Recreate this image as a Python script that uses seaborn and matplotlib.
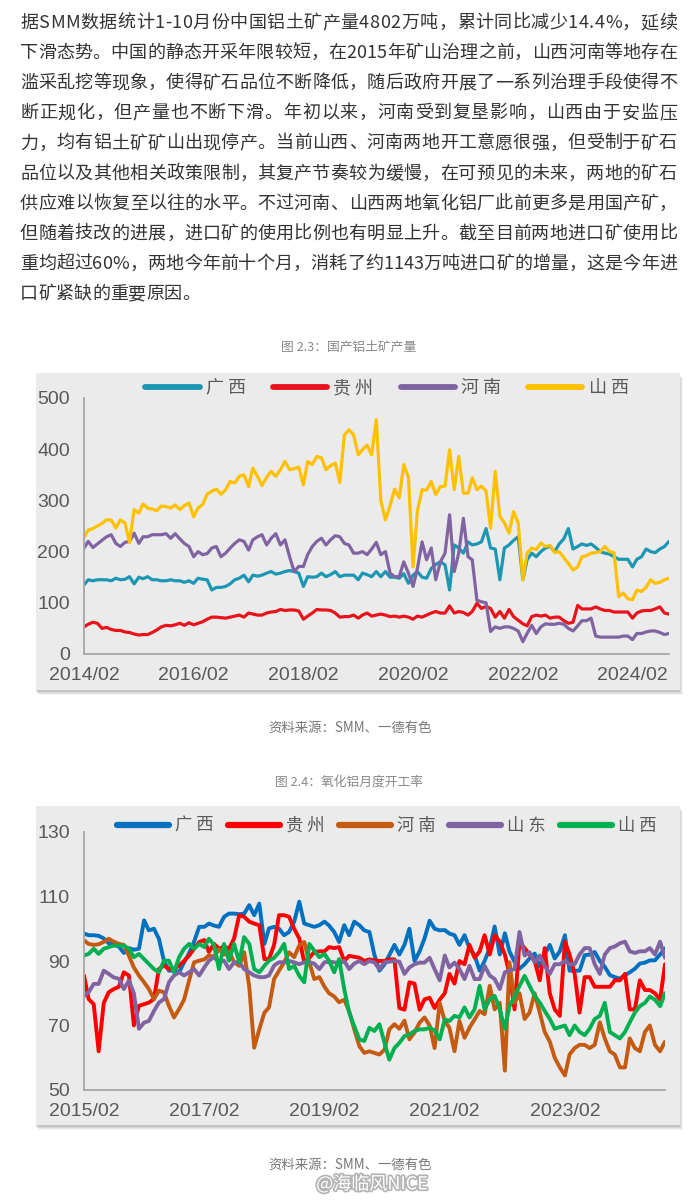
import matplotlib
matplotlib.use("Agg")
import numpy as np
import pandas as pd
import matplotlib.pyplot as plt
import matplotlib.patheffects as pe
from matplotlib.font_manager import FontProperties
from matplotlib.patches import Rectangle
import seaborn as sns

# ------------------------------------------------------------------
# Text content
# ------------------------------------------------------------------
PARAGRAPH = [
    "据SMM数据统计1-10月份中国铝土矿产量4802万吨，累计同比减少14.4%，延续",
    "下滑态势。中国的静态开采年限较短，在2015年矿山治理之前，山西河南等地存在",
    "滥采乱挖等现象，使得矿石品位不断降低，随后政府开展了一系列治理手段使得不",
    "断正规化，但产量也不断下滑。年初以来，河南受到复垦影响，山西由于安监压",
    "力，均有铝土矿矿山出现停产。当前山西、河南两地开工意愿很强，但受制于矿石",
    "品位以及其他相关政策限制，其复产节奏较为缓慢，在可预见的未来，两地的矿石",
    "供应难以恢复至以往的水平。不过河南、山西两地氧化铝厂此前更多是用国产矿，",
    "但随着技改的进展，进口矿的使用比例也有明显上升。截至目前两地进口矿使用比",
    "重均超过60%，两地今年前十个月，消耗了约1143万吨进口矿的增量，这是今年进",
    "口矿紧缺的重要原因。",
]
CAPTION_1 = "图 2.3：国产铝土矿产量"
CAPTION_2 = "图 2.4：氧化铝月度开工率"
SOURCE = "资料来源：SMM、一德有色"
WATERMARK = "@海临风NICE"

# ------------------------------------------------------------------
# Chart 1: bauxite output (monthly, from 2014/02)
# ------------------------------------------------------------------
BAUXITE_START = "2014-02-01"
bauxite_regions = ["广西", "贵州", "河南", "山西"]
bauxite_guangxi = [
    135, 145, 143, 145, 145, 145, 143, 148, 145, 146, 151, 137,
    150, 147, 151, 145, 145, 143, 143, 145, 143, 143, 140, 143,
    138, 148, 146, 145, 125, 130, 130, 132, 137, 145, 148, 154,
    141, 154, 152, 154, 158, 161, 156, 158, 161, 163, 161, 158,
    132, 151, 150, 151, 158, 151, 155, 161, 151, 154, 154, 154,
    145, 158, 155, 151, 161, 151, 161, 150, 150, 148, 157, 138,
    154, 161, 150, 148, 167, 175, 180, 174, 125, 213, 207, 197,
    219, 213, 215, 219, 245, 207, 205, 145, 207, 213, 222, 229,
    145, 184, 197, 190, 200, 207, 210, 200, 215, 225, 245, 205,
    210, 215, 212, 215, 208, 200, 197, 195, 190, 185, 185, 185,
    170, 185, 190, 205, 200, 198, 205, 210, 220,
]
bauxite_guizhou = [
    53, 58, 62, 60, 50, 52, 48, 46, 46, 43, 42, 39,
    37, 38, 38, 42, 47, 53, 56, 55, 57, 60, 56, 61,
    57, 60, 63, 68, 72, 72, 71, 70, 72, 74, 76, 72,
    80, 78, 76, 76, 80, 82, 83, 87, 85, 86, 86, 84,
    68, 74, 80, 87, 86, 86, 85, 80, 72, 73, 73, 76,
    70, 76, 80, 74, 76, 78, 76, 73, 74, 72, 74, 72,
    68, 74, 72, 76, 80, 83, 80, 80, 94, 80, 83, 81,
    76, 83, 99, 89, 93, 89, 72, 83, 70, 87, 73, 66,
    59, 55, 73, 76, 74, 76, 70, 72, 72, 65, 60, 62,
    95, 88, 88, 88, 92, 88, 85, 85, 82, 82, 82, 82,
    70, 80, 84, 85, 85, 88, 92, 80, 78,
]
bauxite_henan = [
    207, 220, 208, 215, 222, 229, 233, 216, 210, 218, 220, 236,
    216, 229, 229, 233, 233, 233, 235, 226, 235, 225, 216, 210,
    190, 200, 194, 196, 207, 210, 190, 197, 207, 216, 223, 220,
    203, 223, 229, 233, 213, 226, 235, 213, 223, 190, 161, 171,
    171, 194, 210, 220, 226, 213, 223, 231, 229, 216, 213, 197,
    197, 200, 194, 205, 218, 194, 200, 158, 151, 151, 180, 158,
    132, 167, 219, 184, 207, 145, 180, 197, 272, 161, 197, 265,
    190, 184, 105, 102, 100, 44, 53, 50, 53, 53, 50, 45,
    24, 40, 56, 40, 53, 59, 58, 58, 60, 58, 50, 45,
    55, 65, 65, 70, 35, 33, 33, 33, 33, 33, 35, 35,
    28, 40, 40, 43, 45, 45, 42, 38, 40,
]
bauxite_shanxi = [
    228, 242, 245, 250, 255, 262, 262, 246, 262, 256, 218, 282,
    275, 293, 285, 283, 280, 289, 288, 285, 291, 282, 290, 295,
    268, 285, 292, 312, 318, 322, 312, 321, 337, 334, 347, 350,
    327, 363, 347, 329, 345, 357, 347, 360, 376, 360, 362, 365,
    330, 376, 370, 386, 383, 360, 368, 373, 335, 428, 438, 428,
    389, 399, 408, 389, 458, 300, 262, 290, 322, 305, 370, 345,
    170, 280, 321, 320, 337, 311, 327, 328, 399, 321, 386, 314,
    314, 344, 321, 328, 318, 246, 357, 269, 256, 236, 278, 256,
    145, 197, 207, 204, 217, 210, 212, 198, 200, 188, 177, 164,
    170, 190, 192, 197, 198, 200, 210, 200, 198, 112, 119, 108,
    106, 125, 122, 130, 145, 138, 140, 145, 148,
]
bauxite_colors = ["#1b97b3", "#e8131b", "#8064a2", "#ffc000"]
bauxite_xticks = ["2014/02", "2016/02", "2018/02", "2020/02", "2022/02", "2024/02"]
bauxite_yticks = [0, 100, 200, 300, 400, 500]

# ------------------------------------------------------------------
# Chart 2: alumina operating rate (monthly, from 2015/02)
# ------------------------------------------------------------------
ALUMINA_START = "2015-02-01"
alumina_regions = ["广西", "贵州", "河南", "山东", "山西"]
alumina_guangxi = [
    98.5, 98, 98, 97.8, 97, 95.5, 95, 94.5, 92.5, 94, 93.5, 93.8,
    102.6, 99.5, 100, 96.9, 90, 87, 87, 86.5, 89.6, 92.5, 96, 100.6,
    100.6, 101.6, 101, 100.6, 103.7, 104.7, 104.7, 104.5, 104.7, 107.3, 104.2, 107.8,
    95.3, 100.1, 100.6, 100, 98, 99, 102.2, 108.4, 101.6, 101.1, 100.6, 101.1,
    102.2, 101, 99, 95.9, 101.1, 98, 102.2, 101.1, 99.5, 99, 92, 87,
    89, 91.8, 95, 92, 95, 100, 90, 93, 97, 102.5, 100, 99.5,
    99.6, 98.5, 98, 95, 98, 94, 91.8, 87, 90, 94, 100.7, 92,
    98.6, 93, 89.7, 87.6, 89, 90.8, 92.3, 88.2, 92, 95, 90.8, 93,
    98, 87, 87, 87, 91.8, 92, 92.8, 90, 88.2, 85.6, 85, 84.5,
    85.6, 86.5, 87.6, 89.2, 89.5, 90.2, 90.2, 92, 93.9,
]
alumina_guizhou = [
    85.5, 78.2, 76.6, 62, 77, 80.3, 81.3, 82, 86.5, 85.5, 70, 76.1,
    76.6, 77.1, 78.2, 87.5, 88.6, 87.5, 87.5, 88.6, 90, 91.7, 93.8, 95.9,
    96.5, 92.8, 95.3, 93.8, 94.5, 93.8, 97, 104.2, 103.7, 102.2, 101.6, 101.1,
    90.6, 90.6, 95, 104.2, 104.2, 103.7, 100, 97, 89.6, 91, 92.8, 93,
    93, 94.3, 94, 94.3, 90, 91.6, 91.3, 91, 90, 90.5, 90.2, 90,
    90, 90.5, 90.5, 75.4, 74.9, 83.4, 83, 74.9, 78.1, 78.6, 75.4, 78,
    80, 86, 83, 90, 89, 95, 91, 93, 98, 92, 98, 96,
    92, 86, 75, 96, 94, 92, 90, 84, 94, 80, 75, 73,
    96, 92, 86, 74, 85, 85, 82, 82, 82, 82, 84, 84,
    86, 75, 75, 84, 81, 81, 80, 78, 89,
]
alumina_henan = [
    96.4, 95.3, 95, 95.2, 95.9, 96.9, 96, 95.3, 95, 91.6, 88, 85.5,
    83.4, 81.3, 78.2, 80.8, 80.3, 76.1, 72.5, 75.1, 78, 84, 89.6, 90.1,
    90.5, 91.7, 91.3, 93.7, 92, 93, 89.6, 88.5, 92.7, 82, 63.1, 68.8,
    74, 75.6, 84.4, 87, 89.6, 92.7, 91.2, 94.8, 95.9, 89.6, 84.4, 85,
    82, 80, 79, 77.2, 78, 74.5, 68.8, 63.6, 61.5, 62, 61.5, 61,
    62.5, 68.8, 70.4, 69, 71.5, 65.7, 67.8, 70.9, 72.5, 70, 63, 77,
    71.4, 69.3, 62, 71.4, 66.2, 69.3, 71.9, 74.5, 73.5, 82.3, 75, 77,
    56, 89.6, 77, 80, 72, 74, 80, 74, 68, 65, 60, 57,
    54.5, 61, 63, 64, 64, 63, 64, 71, 66, 62, 61, 57,
    57, 66, 63, 62, 68, 70, 64, 62, 65,
]
alumina_shandong = [
    79.2, 80.3, 82.9, 82.9, 87, 86, 84.9, 84.5, 81.3, 83.9, 80, 69,
    70.9, 71.4, 74.5, 77.1, 78.2, 83.4, 85.5, 86.5, 85.5, 86.5, 87.5, 85.5,
    88, 90.1, 91.2, 89.6, 90.1, 87.5, 89.6, 89.6, 87.5, 86.5, 85.5, 85,
    85, 85.5, 88.6, 89.6, 89.6, 90, 89.6, 89, 89.6, 89.6, 89.2, 87.5,
    89.6, 89.8, 89.6, 89.2, 90, 87.5, 89.2, 90, 89, 90, 89.6, 87.5,
    89.6, 89.8, 90, 89.8, 86, 88, 89, 89.5, 89.5, 91, 87.5, 84,
    91.7, 88, 89.5, 87.5, 84.4, 88.5, 84.4, 84.4, 88.5, 85.5, 84.4, 81.3,
    86.5, 87, 87.5, 99, 91.7, 92.7, 89.6, 91.7, 88.5, 86, 89, 89,
    90, 89, 89, 92, 94, 94, 89, 86, 92, 94, 94.5, 95.5,
    96, 93, 92.5, 93, 93, 94, 92, 96, 91,
]
alumina_shanxi = [
    91.7, 92.2, 93.8, 92.2, 93.8, 94.3, 94.8, 94.8, 94.8, 93.8, 91.2, 92.2,
    90.6, 89.1, 87.5, 86.5, 90.1, 90.1, 86.5, 91.2, 93.8, 95.3, 93.8, 95.3,
    94.3, 96.9, 95, 87.5, 95.3, 90.1, 95.3, 89.6, 97.4, 95.3, 87.5, 86.5,
    88.5, 90.1, 91, 92.7, 95.3, 87.5, 88.5, 85.4, 83.4, 95.3, 93.2, 91.2,
    92.2, 90.1, 86.5, 90.6, 81.3, 74, 69.8, 65.7, 65.2, 69.3, 68.3, 70.4,
    64.6, 59.4, 63, 64.6, 66.7, 67.2, 68.3, 68.8, 68.8, 69.3, 68.5, 65.7,
    71.9, 71.4, 73, 72.5, 75.6, 72.5, 75, 82.3, 75, 78.1, 79.2, 75,
    69, 76, 79, 82.3, 85.4, 82.3, 79.2, 77.1, 74.5, 72, 69, 69.5,
    70, 67, 70, 68, 67, 69, 72, 73, 77, 68, 67, 66,
    68, 71, 74, 76, 77, 79, 78, 76, 80,
]
alumina_colors = ["#0070c0", "#ff0000", "#c55a11", "#8064a2", "#00b050"]
alumina_xticks = ["2015/02", "2017/02", "2019/02", "2021/02", "2023/02"]
alumina_yticks = [50, 70, 90, 110, 130]

# ------------------------------------------------------------------
# Layout (pixel based, figure is 696 x 1200 px)
# ------------------------------------------------------------------
W, H = 696, 1200
CJK = ["Noto Sans CJK SC", "DejaVu Sans"]
TICK_FONT = ["Liberation Sans", "DejaVu Sans"]
FRAME_BG = "#ebebeb"
AXIS_GRAY = "#a6a6a6"
TICK_TEXT = "#595959"


def fx(px):
    return px / W


def fy(py):
    return 1 - py / H


def long_frame(start, regions, series):
    months = pd.date_range(start, periods=len(series[0]), freq="MS")
    parts = [
        pd.DataFrame({"month": months, "value": vals, "region": name})
        for name, vals in zip(regions, series)
    ]
    return pd.concat(parts, ignore_index=True)


def draw_frame(fig, x0, y0, x1, y1):
    # soft drop shadow then the grey panel, both behind the axes
    for off, alpha in [(5, 0.10), (4, 0.15), (3, 0.22), (2, 0.30)]:
        fig.patches.append(Rectangle(
            (fx(x0 + off - 2), fy(y1 + off)), (x1 - x0) / W, (y1 - y0) / H,
            transform=fig.transFigure, facecolor="#9a9a9a", edgecolor="none",
            alpha=alpha, zorder=-3))
    fig.patches.append(Rectangle(
        (fx(x0), fy(y1)), (x1 - x0) / W, (y1 - y0) / H,
        transform=fig.transFigure, facecolor=FRAME_BG, edgecolor="none", zorder=-2))


def draw_chart(fig, df, regions, colors, lw, ax_px, ylim, yticks, xticks,
               legend_xy, legend_kw):
    left, top, right, bottom = ax_px
    ax = fig.add_axes([fx(left), fy(bottom), (right - left) / W, (bottom - top) / H])
    ax.set_facecolor("none")
    ax.set_zorder(2)
    sns.lineplot(data=df, x="month", y="value", hue="region", hue_order=regions,
                 palette=dict(zip(regions, colors)), linewidth=lw, ax=ax)
    months = df["month"].unique()
    ax.set_xlim(months[0], months[-1])
    ax.set_ylim(*ylim)
    ax.set_yticks(yticks)
    ax.set_yticklabels([str(v) for v in yticks])
    ax.set_xticks(pd.to_datetime(xticks, format="%Y/%m"))
    ax.set_xticklabels(xticks)
    ax.set_xlabel("")
    ax.set_ylabel("")
    for s in ["top", "right"]:
        ax.spines[s].set_visible(False)
    for s in ["left", "bottom"]:
        ax.spines[s].set_color(AXIS_GRAY)
        ax.spines[s].set_linewidth(1.3)
    ax.tick_params(axis="both", direction="out", length=4, width=1.2,
                   color=AXIS_GRAY, labelcolor=TICK_TEXT, labelsize=14)
    ax.tick_params(axis="x", pad=5)
    ax.tick_params(axis="y", pad=6)
    for lab in ax.get_xticklabels() + ax.get_yticklabels():
        lab.set_family(TICK_FONT)

    handles, labels = ax.get_legend_handles_labels()
    ax.get_legend().remove()
    leg = fig.legend(handles, [" ".join(l) for l in labels], loc="center",
                     bbox_to_anchor=(fx(legend_xy[0]), fy(legend_xy[1])),
                     ncol=len(regions), frameon=False,
                     prop=FontProperties(family=CJK, size=legend_kw["size"]),
                     handlelength=legend_kw["handlelength"],
                     handletextpad=0.35,
                     columnspacing=legend_kw["columnspacing"])
    leg.set_zorder(3)
    for line in leg.get_lines():
        line.set_linewidth(legend_kw["lw"])
        line.set_solid_capstyle("round")
    for t in leg.get_texts():
        t.set_color(TICK_TEXT)
    return ax


def draw_paragraph(fig, lines, x0, x1, y_first, step, size):
    # justified lines, like the article body text
    renderer = fig.canvas.get_renderer()
    fp = FontProperties(family=CJK, size=size)
    for i, line in enumerate(lines):
        y = y_first + i * step
        widths = []
        for ch in line:
            w, _, _ = renderer.get_text_width_height_descent(ch, fp, ismath=False)
            widths.append(w)
        total = sum(widths)
        last = i == len(lines) - 1
        gap = 0.0 if last else (x1 - x0 - total) / (len(line) - 1)
        x = x0
        for ch, w in zip(line, widths):
            fig.text(fx(x), fy(y), ch, fontproperties=fp, color="#333333",
                     ha="left", va="center")
            x += w + gap


sns.set_theme(style="white")
plt.rcParams["font.family"] = CJK
plt.rcParams["axes.unicode_minus"] = False

fig = plt.figure(figsize=(W / 100, H / 100), dpi=100)
fig.patch.set_facecolor("white")

# ---------------- paragraph ----------------
draw_paragraph(fig, PARAGRAPH, 20, 677, 23, 30.1, 13)

# ---------------- chart 1 ----------------
fig.text(fx(349), fy(347), CAPTION_1, ha="center", va="center",
         fontsize=9.2, color="#888888", family=CJK)
draw_frame(fig, 36, 373, 680, 690)
df1 = long_frame(BAUXITE_START, bauxite_regions,
                 [bauxite_guangxi, bauxite_guizhou, bauxite_henan, bauxite_shanxi])
draw_chart(fig, df1, bauxite_regions, bauxite_colors, 2.3,
           (84, 398, 669, 654), (0, 500), bauxite_yticks, bauxite_xticks,
           (387, 388), dict(size=13, handlelength=3.0, columnspacing=1.5, lw=4.2))
fig.text(fx(350), fy(728), SOURCE, ha="center", va="center",
         fontsize=9.6, color="#777777", family=CJK)

# ---------------- chart 2 ----------------
fig.text(fx(349), fy(782), CAPTION_2, ha="center", va="center",
         fontsize=9.2, color="#888888", family=CJK)
draw_frame(fig, 36, 806, 680, 1125)
df2 = long_frame(ALUMINA_START, alumina_regions,
                 [alumina_guangxi, alumina_guizhou, alumina_henan,
                  alumina_shandong, alumina_shanxi])
draw_chart(fig, df2, alumina_regions, alumina_colors, 2.8,
           (84, 832, 665, 1090), (50, 130), alumina_yticks, alumina_xticks,
           (387, 826), dict(size=12.5, handlelength=3.0, columnspacing=0.8, lw=4.5))
fig.text(fx(350), fy(1165), SOURCE, ha="center", va="center",
         fontsize=9.6, color="#777777", family=CJK)

# ---------------- watermark ----------------
fig.text(fx(372), fy(1184), WATERMARK, ha="center", va="center", fontsize=13,
         color="white", family=CJK,
         path_effects=[pe.withStroke(linewidth=2.5, foreground="#b5b5b5")])

fig.savefig("out.png", dpi=100, facecolor="white")
